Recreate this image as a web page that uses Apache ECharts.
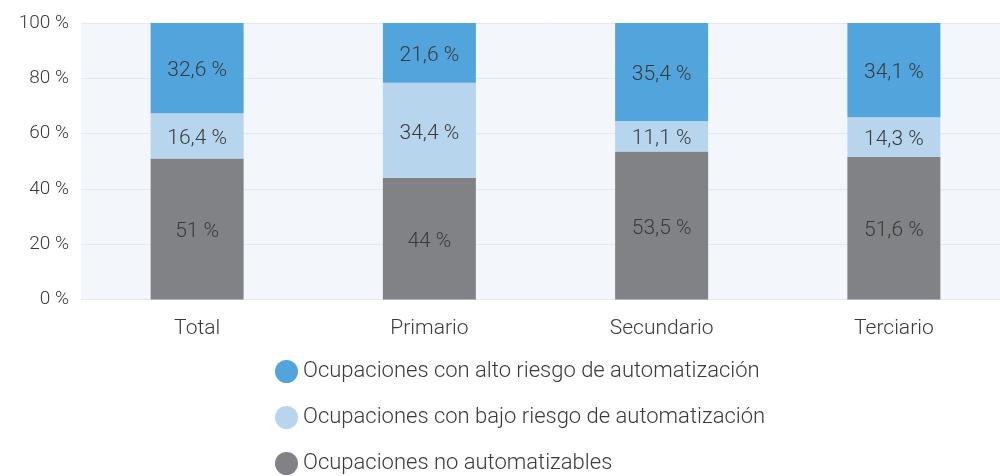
<!DOCTYPE html>
<html><head><meta charset="utf-8">
<script src="https://cdn.jsdelivr.net/npm/echarts@6/dist/echarts.min.js"></script>
<style>html,body{margin:0;padding:0;background:#fff;overflow:hidden;width:1000px;height:476px}#c{width:1010px;height:476px}</style>
</head><body><div id="c"></div>
<script>
const categories = ['Total', 'Primario', 'Secundario', 'Terciario'];
const seriesNames = ['Ocupaciones con alto riesgo de automatización', 'Ocupaciones con bajo riesgo de automatización', 'Ocupaciones no automatizables'];
const altoRiesgo = [32.6, 21.6, 35.4, 34.1];
const bajoRiesgo = [16.4, 34.4, 11.1, 14.3];
const noAutomatizables = [51, 44, 53.5, 51.6];
const yTicks = [0, 20, 40, 60, 80, 100];

const FONT = 'Roboto';
const TXT = '#3a3a3a';
const fmt = v => String(v).replace('.', ',') + ' %';
const colors = ['#52a5dc', '#b8d5ee', '#818286'];

const chart = echarts.init(document.getElementById('c'), null, {renderer: 'canvas'});
function mk(name, data, color) {
  return {
    name, type: 'bar', stack: 's', data, barWidth: 93,
    itemStyle: {color},
    label: {show: true, position: 'inside', offset: [0, 3], formatter: p => fmt(p.value),
      color: TXT, fontFamily: FONT, fontWeight: 300, fontSize: 21}
  };
}
chart.setOption({
  animation: false,
  textStyle: {fontFamily: FONT},
  grid: {left: 81, top: 23, bottom: 176.5, right: 0, show: true, backgroundColor: '#f3f7fb', borderWidth: 0},
  xAxis: {type: 'category', data: categories,
    axisLine: {show: false}, axisTick: {show: false},
    axisLabel: {margin: 19, color: TXT, fontFamily: FONT, fontWeight: 300, fontSize: 21}},
  yAxis: {type: 'value', min: yTicks[0], max: yTicks[yTicks.length - 1], interval: 20,
    axisLine: {show: false}, axisTick: {show: false},
    splitLine: {lineStyle: {color: '#dfeaf6', width: 1}},
    axisLabel: {margin: 12, color: TXT, fontFamily: FONT, fontWeight: 300, fontSize: 19, formatter: v => v + ' %'}},
  legend: {orient: 'vertical', left: 275, top: 360, height: 300, padding: 0, itemWidth: 23, itemHeight: 23, itemGap: 23,
    icon: 'circle', data: seriesNames,
    textStyle: {color: TXT, fontFamily: FONT, fontWeight: 300, fontSize: 22, padding: [0, 0, 0, 0]}},
  series: [
    mk(seriesNames[2], noAutomatizables, colors[2]),
    mk(seriesNames[1], bajoRiesgo, colors[1]),
    mk(seriesNames[0], altoRiesgo, colors[0])
  ]
});
</script></body></html>
